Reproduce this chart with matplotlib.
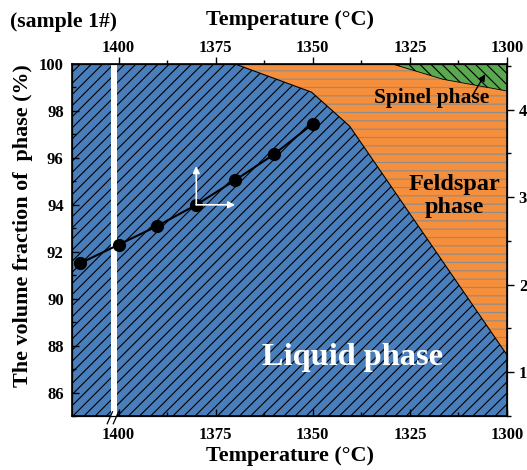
import matplotlib.pyplot as plt
from matplotlib.ticker import MultipleLocator

plt.rcParams['font.family'] = ['Liberation Serif', 'DejaVu Serif']
plt.rcParams['font.weight'] = 'bold'
plt.rcParams['hatch.linewidth'] = 0.8

# measured volume fraction of liquid phase
temps = [1410, 1400, 1390, 1380, 1370, 1360, 1350]
fraction = [91.5, 92.3, 93.1, 94.0, 95.05, 96.15, 97.45]

# phase boundaries (upper edge of liquid, lower edge of spinel)
liquid_t = [1412, 1370, 1350.3, 1340.5, 1300]
liquid_top = [100, 100, 98.8, 97.35, 87.6]
spinel_t = [1329.5, 1316.5, 1300]
spinel_bottom = [100, 99.35, 98.85]

x_ticks = [1400, 1375, 1350, 1325, 1300]
right_ticks = [1, 2, 3, 4]

blue = '#4a7ebb'
orange = '#f68f3c'
green = '#5aa850'

fig = plt.figure(figsize=(5.27, 4.70), dpi=100)
ax = fig.add_axes([0.1366, 0.1149, 0.8254, 0.7489])

ax.fill_between(liquid_t, 85, liquid_top, facecolor=blue, edgecolor='black', hatch='///', lw=0, zorder=1)
ax.fill_between(liquid_t, liquid_top, 100, facecolor=orange, edgecolor='#8c8c8c', hatch='--', lw=0, zorder=1)
ax.fill_between(spinel_t, spinel_bottom, 100, facecolor=green, edgecolor='black', hatch='\\\\\\', lw=0, zorder=1)
ax.plot(liquid_t, liquid_top, color='black', lw=0.8, zorder=2)
ax.plot(spinel_t, spinel_bottom, color='black', lw=0.6, zorder=2)

# axis break band
ax.axvspan(1402, 1400.5, color='white', lw=0, zorder=3)

ax.plot(temps, fraction, color='black', lw=1.5, marker='o', ms=8.5, zorder=5)

ax.annotate('', xy=(1380, 95.65), xytext=(1380, 94.0),
            arrowprops=dict(arrowstyle='-|>', color='white', lw=1.2, shrinkA=0, shrinkB=0), zorder=6)
ax.annotate('', xy=(1370, 94.0), xytext=(1380, 94.0),
            arrowprops=dict(arrowstyle='-|>', color='white', lw=1.2, shrinkA=0, shrinkB=0), zorder=6)
ax.annotate('', xy=(1305.6, 99.57), xytext=(1309, 98.63),
            arrowprops=dict(arrowstyle='-|>', color='black', lw=1.0, shrinkA=0, shrinkB=0), zorder=6)

ax.text(1339.7, 87.5, 'Liquid phase', color='white', fontsize=23.3, ha='center', va='center', zorder=7)
ax.text(1313.6, 94.37, 'Feldspar\nphase', color='black', fontsize=17.5, ha='center', va='center',
        linespacing=1.15, zorder=7)
ax.text(1319.5, 98.55, 'Spinel phase', color='black', fontsize=15.5, ha='center', va='center', zorder=7)

ax.set_xlim(1412, 1300)
ax.set_ylim(85, 100)
ax.set_xticks(x_ticks)
ax.xaxis.set_minor_locator(MultipleLocator(12.5))
ax.set_yticks(range(86, 101, 2))
ax.yaxis.set_minor_locator(MultipleLocator(1))
ax.tick_params(which='both', direction='in', labelsize=12, width=1)
ax.tick_params(which='major', length=5)
ax.tick_params(which='minor', length=3)
ax.tick_params(axis='x', pad=8)
ax.tick_params(axis='y', pad=6)
for s in ax.spines.values():
    s.set_linewidth(1.2)

top = ax.twiny()
top.set_xlim(ax.get_xlim())
top.set_xticks(x_ticks)
top.xaxis.set_minor_locator(MultipleLocator(12.5))
top.tick_params(which='both', direction='out', labelsize=12, width=1, pad=1)
top.tick_params(which='major', length=5)
top.tick_params(which='minor', length=3)

right = ax.twinx()
right.set_ylim(0.5, 4.52)
right.set_yticks(right_ticks)
right.yaxis.set_minor_locator(MultipleLocator(0.5))
right.tick_params(which='both', direction='out', labelsize=12, width=1)
right.tick_params(which='major', length=5)
right.tick_params(which='minor', length=3)

# break marks below the bottom axis
for x0 in (0.081, 0.095):
    ax.plot([x0, x0 + 0.012], [-0.022, 0.012], transform=ax.transAxes, color='black',
            lw=0.9, clip_on=False, zorder=8)

fig.text(0.019, 0.953, '(sample 1#)', fontsize=15.7, ha='left', va='center')
fig.text(0.55, 0.957, 'Temperature (°C)', fontsize=15.9, ha='center', va='center')
fig.text(0.55, 0.03, 'Temperature (°C)', fontsize=15.9, ha='center', va='center')
fig.text(0.044, 0.52, 'The volume fraction of  phase (%)', fontsize=15.8, rotation=90,
         ha='center', va='center')

fig.savefig('out.png', dpi=100)
